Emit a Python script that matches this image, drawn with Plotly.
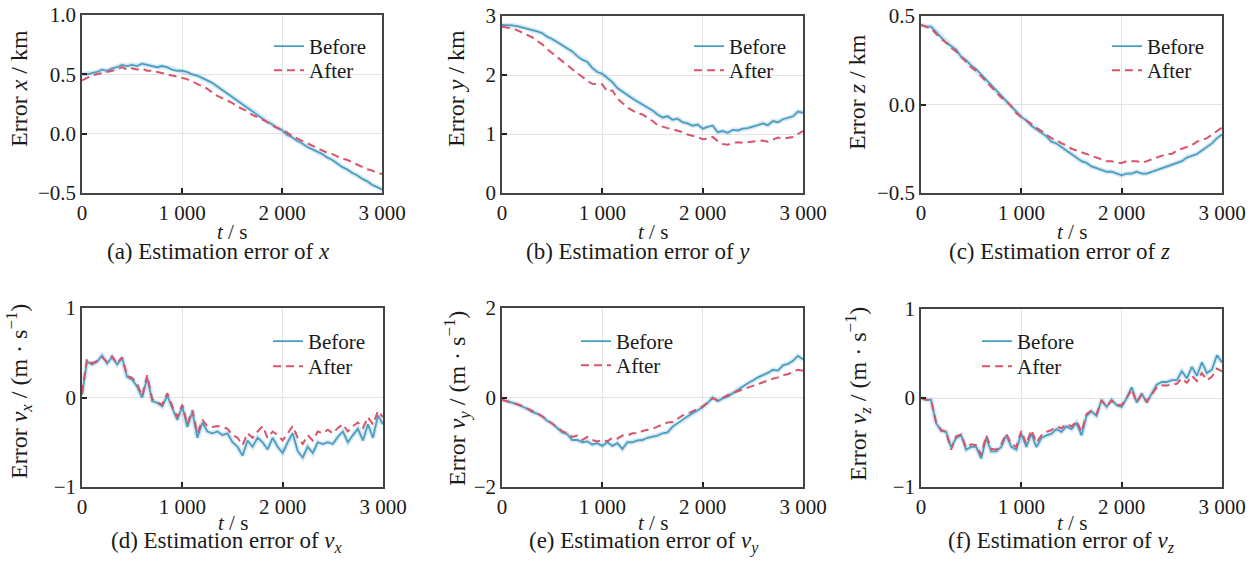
import plotly.graph_objects as go

# ---------------- data ----------------
t = list(range(0, 3001, 50))
x_ticks = [0, 1000, 2000, 3000]
x_ticktext = ["0", "1 000", "2 000", "3 000"]

x_before = [0.50, 0.50, 0.51, 0.52, 0.54, 0.53, 0.55, 0.56, 0.58, 0.57, 0.58, 0.57, 0.59, 0.58, 0.57, 0.56,
            0.57, 0.56, 0.54, 0.53, 0.53, 0.52, 0.50, 0.49, 0.47, 0.45, 0.43, 0.40, 0.37, 0.34, 0.31, 0.28,
            0.25, 0.22, 0.19, 0.16, 0.13, 0.10, 0.08, 0.05, 0.03, -0.01, -0.03, -0.06, -0.08, -0.11, -0.13,
            -0.15, -0.17, -0.20, -0.22, -0.25, -0.28, -0.30, -0.33, -0.35, -0.38, -0.40, -0.43, -0.45, -0.47]
x_after = [0.45, 0.47, 0.49, 0.50, 0.51, 0.52, 0.53, 0.54, 0.56, 0.54, 0.55, 0.54, 0.55, 0.53, 0.53, 0.52,
           0.51, 0.50, 0.49, 0.48, 0.47, 0.46, 0.44, 0.42, 0.40, 0.38, 0.35, 0.32, 0.30, 0.28, 0.26, 0.23,
           0.21, 0.19, 0.16, 0.14, 0.12, 0.10, 0.07, 0.05, 0.03, 0.01, -0.02, -0.04, -0.06, -0.08, -0.10,
           -0.12, -0.14, -0.16, -0.17, -0.19, -0.21, -0.22, -0.24, -0.26, -0.28, -0.30, -0.31, -0.33, -0.34]

y_before = [2.85, 2.85, 2.84, 2.83, 2.81, 2.79, 2.77, 2.74, 2.71, 2.65, 2.61, 2.56, 2.51, 2.45, 2.40, 2.32,
            2.26, 2.22, 2.12, 2.05, 2.02, 1.95, 1.88, 1.78, 1.72, 1.65, 1.60, 1.55, 1.50, 1.45, 1.40, 1.33,
            1.28, 1.30, 1.24, 1.26, 1.20, 1.18, 1.14, 1.16, 1.09, 1.12, 1.14, 1.03, 1.05, 1.02, 1.07, 1.06,
            1.09, 1.10, 1.12, 1.15, 1.18, 1.15, 1.22, 1.20, 1.25, 1.27, 1.30, 1.38, 1.36]
y_after = [2.82, 2.81, 2.79, 2.76, 2.72, 2.68, 2.64, 2.58, 2.52, 2.44, 2.37, 2.30, 2.24, 2.17, 2.10, 2.03,
           1.97, 1.90, 1.85, 1.85, 1.84, 1.72, 1.74, 1.60, 1.52, 1.45, 1.40, 1.35, 1.33, 1.28, 1.22, 1.15,
           1.12, 1.10, 1.08, 1.06, 1.03, 0.99, 0.97, 0.95, 0.91, 0.92, 0.95, 0.88, 0.83, 0.82, 0.85, 0.86,
           0.85, 0.86, 0.86, 0.87, 0.89, 0.87, 0.90, 0.94, 0.92, 0.93, 0.95, 1.00, 1.05]

z_before = [0.45, 0.44, 0.44, 0.41, 0.38, 0.35, 0.33, 0.31, 0.27, 0.25, 0.22, 0.20, 0.17, 0.14, 0.11, 0.08,
            0.05, 0.02, -0.01, -0.04, -0.07, -0.09, -0.12, -0.14, -0.16, -0.18, -0.21, -0.22, -0.24, -0.26,
            -0.28, -0.30, -0.32, -0.33, -0.35, -0.36, -0.37, -0.38, -0.38, -0.39, -0.40, -0.39, -0.39, -0.38,
            -0.39, -0.39, -0.38, -0.37, -0.36, -0.35, -0.34, -0.33, -0.32, -0.30, -0.29, -0.28, -0.26, -0.24,
            -0.22, -0.19, -0.17]
z_after = [0.45, 0.44, 0.43, 0.40, 0.37, 0.35, 0.32, 0.30, 0.27, 0.24, 0.21, 0.19, 0.16, 0.13, 0.10, 0.07,
           0.04, 0.02, -0.01, -0.05, -0.07, -0.09, -0.11, -0.13, -0.15, -0.17, -0.19, -0.20, -0.22, -0.23,
           -0.25, -0.26, -0.27, -0.28, -0.29, -0.30, -0.31, -0.32, -0.32, -0.33, -0.33, -0.32, -0.32, -0.32,
           -0.33, -0.32, -0.31, -0.30, -0.29, -0.28, -0.28, -0.26, -0.25, -0.24, -0.23, -0.21, -0.20, -0.19,
           -0.17, -0.15, -0.13]

vx_before = [0.03, 0.40, 0.37, 0.40, 0.47, 0.38, 0.45, 0.37, 0.44, 0.23, 0.20, 0.12, 0.00, 0.22, -0.04, -0.06,
             -0.10, 0.02, -0.12, -0.25, -0.10, -0.33, -0.16, -0.45, -0.28, -0.38, -0.40, -0.38, -0.42, -0.40,
             -0.50, -0.55, -0.65, -0.48, -0.55, -0.45, -0.50, -0.58, -0.45, -0.55, -0.62, -0.50, -0.40, -0.60,
             -0.67, -0.55, -0.62, -0.50, -0.52, -0.50, -0.52, -0.44, -0.38, -0.50, -0.42, -0.35, -0.48, -0.30,
             -0.45, -0.20, -0.30]
vx_after = [0.05, 0.43, 0.38, 0.41, 0.45, 0.40, 0.46, 0.38, 0.45, 0.24, 0.22, 0.15, 0.02, 0.25, -0.02, -0.05,
            -0.08, 0.05, -0.10, -0.22, -0.08, -0.30, -0.14, -0.40, -0.25, -0.32, -0.33, -0.32, -0.33, -0.35,
            -0.42, -0.45, -0.53, -0.40, -0.45, -0.38, -0.32, -0.45, -0.38, -0.42, -0.48, -0.40, -0.32, -0.45,
            -0.52, -0.42, -0.48, -0.38, -0.40, -0.36, -0.40, -0.34, -0.30, -0.38, -0.32, -0.28, -0.34, -0.22,
            -0.30, -0.15, -0.22]

vy_before = [-0.05, -0.08, -0.12, -0.15, -0.20, -0.25, -0.32, -0.36, -0.42, -0.52, -0.58, -0.68, -0.78, -0.82,
             -0.95, -0.95, -1.00, -0.98, -1.05, -1.02, -1.08, -1.00, -1.08, -1.02, -1.15, -1.00, -1.00, -0.96,
             -0.95, -0.90, -0.88, -0.85, -0.80, -0.78, -0.65, -0.58, -0.50, -0.42, -0.35, -0.28, -0.22, -0.12,
             0.00, -0.08, -0.02, 0.02, 0.10, 0.18, 0.25, 0.32, 0.38, 0.45, 0.50, 0.55, 0.62, 0.60, 0.72, 0.75,
             0.82, 0.93, 0.85]
vy_after = [-0.05, -0.08, -0.11, -0.15, -0.19, -0.24, -0.30, -0.35, -0.42, -0.50, -0.58, -0.66, -0.75, -0.80,
            -0.88, -0.85, -0.95, -0.88, -0.95, -0.98, -0.95, -0.98, -0.90, -0.92, -0.85, -0.85, -0.80, -0.80,
            -0.75, -0.72, -0.70, -0.65, -0.60, -0.56, -0.55, -0.48, -0.40, -0.36, -0.30, -0.25, -0.20, -0.10,
            -0.02, -0.06, 0.00, 0.05, 0.10, 0.14, 0.18, 0.22, 0.27, 0.30, 0.35, 0.38, 0.42, 0.45, 0.50, 0.52,
            0.58, 0.62, 0.60]

vz_before = [0.00, -0.02, -0.02, -0.28, -0.37, -0.38, -0.55, -0.45, -0.42, -0.58, -0.55, -0.55, -0.68, -0.45,
             -0.60, -0.60, -0.55, -0.42, -0.55, -0.58, -0.40, -0.55, -0.40, -0.55, -0.45, -0.42, -0.40, -0.35,
             -0.38, -0.32, -0.35, -0.28, -0.42, -0.20, -0.15, -0.20, -0.02, -0.10, -0.02, -0.08, -0.10, 0.00,
             0.12, -0.05, 0.05, -0.05, 0.05, 0.15, 0.18, 0.18, 0.20, 0.20, 0.30, 0.22, 0.35, 0.25, 0.40, 0.28,
             0.32, 0.48, 0.40]
vz_after = [0.00, -0.02, -0.02, -0.27, -0.36, -0.38, -0.58, -0.43, -0.41, -0.56, -0.52, -0.53, -0.64, -0.42,
            -0.57, -0.58, -0.52, -0.40, -0.52, -0.55, -0.37, -0.52, -0.36, -0.50, -0.42, -0.38, -0.36, -0.32,
            -0.34, -0.29, -0.32, -0.26, -0.38, -0.18, -0.14, -0.18, -0.03, -0.10, -0.03, -0.08, -0.08, 0.00,
            0.10, -0.05, 0.04, -0.04, 0.04, 0.12, 0.14, 0.14, 0.15, 0.16, 0.22, 0.17, 0.25, 0.19, 0.28, 0.20,
            0.24, 0.33, 0.30]

# ---------------- style / layout ----------------
FONT = "Liberation Serif, Times New Roman, serif"
C_BEFORE = "#4c9dc2"
C_AFTER = "#d9536b"
W, H = 1254, 564


def fx(px):
    """window pixel x -> paper fraction"""
    return px / W


def fy(py):
    """window pixel y (from top) -> paper fraction"""
    return 1 - py / H


panels = [
    dict(before=x_before, after=x_after, yr=[-0.5, 1.0], yt=[-0.5, 0.0, 0.5, 1.0],
         ytt=["\u22120.5", "0.0", "0.5", "1.0"], px=(82, 382), py=(15, 193),
         ytitle="Error <i>x</i> / km", ytx=19, yty=89,
         cap="(a) Estimation error of <i>x</i>", capx=218, leg=(269, 47, 71)),
    dict(before=y_before, after=y_after, yr=[0, 3], yt=[0, 1, 2, 3],
         ytt=["0", "1", "2", "3"], px=(502, 803), py=(16, 193),
         ytitle="Error <i>y</i> / km", ytx=456, yty=89,
         cap="(b) Estimation error of <i>y</i>", capx=638, leg=(689, 47, 71)),
    dict(before=z_before, after=z_after, yr=[-0.5, 0.5], yt=[-0.5, 0.0, 0.5],
         ytt=["\u22120.5", "0.0", "0.5"], px=(921, 1222), py=(16, 193),
         ytitle="Error <i>z</i> / km", ytx=857, yty=92,
         cap="(c) Estimation error of <i>z</i>", capx=1059, leg=(1107, 47, 71)),
    dict(before=vx_before, after=vx_after, yr=[-1, 1], yt=[-1, 0, 1],
         ytt=["\u22121", "0", "1"], px=(82, 383), py=(308, 487),
         ytitle="Error <i>v</i><sub><i>x</i></sub> / (m \u00b7 s<sup>\u22121</sup>)", ytx=19, yty=392,
         cap="(d) Estimation error of <i>v</i><sub><i>x</i></sub>", capx=227, leg=(268, 342, 367)),
    dict(before=vy_before, after=vy_after, yr=[-2, 2], yt=[-2, 0, 2],
         ytt=["\u22122", "0", "2"], px=(502, 803), py=(308, 487),
         ytitle="Error <i>v</i><sub><i>y</i></sub> / (m \u00b7 s<sup>\u22121</sup>)", ytx=457, yty=398,
         cap="(e) Estimation error of <i>v</i><sub><i>y</i></sub>", capx=644, leg=(576, 342, 366)),
    dict(before=vz_before, after=vz_after, yr=[-1, 1], yt=[-1, 0, 1],
         ytt=["\u22121", "0", "1"], px=(921, 1222), py=(309, 487),
         ytitle="Error <i>v</i><sub><i>z</i></sub> / (m \u00b7 s<sup>\u22121</sup>)", ytx=858, yty=394,
         cap="(f) Estimation error of <i>v</i><sub><i>z</i></sub>", capx=1061, leg=(977, 342, 367)),
]

fig = go.Figure()
annotations = []
layout = dict(
    width=W, height=H, margin=dict(l=0, r=0, t=0, b=0, autoexpand=False),
    paper_bgcolor="white", plot_bgcolor="white",
    font=dict(family=FONT, size=20, color="#1a1a1a"),
    showlegend=True,
)

LEG_OFF = 21  # distance from legend top to first item centre

for i, p in enumerate(panels, start=1):
    sfx = "" if i == 1 else str(i)
    xa, ya = "x" + sfx, "y" + sfx
    kb, ka = 2 * i - 1, 2 * i
    leg_b = "legend" if kb == 1 else f"legend{kb}"
    leg_a = f"legend{ka}"
    fig.add_trace(go.Scatter(x=t, y=p["before"], mode="lines", name="Before",
                             line=dict(color="rgba(76,157,194,0.22)", width=5),
                             xaxis=xa, yaxis=ya, showlegend=False, hoverinfo="skip"))
    fig.add_trace(go.Scatter(x=t, y=p["before"], mode="lines", name="Before",
                             line=dict(color=C_BEFORE, width=1.8), xaxis=xa, yaxis=ya, legend=leg_b))
    fig.add_trace(go.Scatter(x=t, y=p["after"], mode="lines", name="After",
                             line=dict(color=C_AFTER, width=2, dash="8px,5px"), xaxis=xa, yaxis=ya,
                             legend=leg_a))
    x0, x1 = p["px"]
    y0, y1 = p["py"]
    common = dict(showgrid=True, gridcolor="#e3e3e3", gridwidth=1, zeroline=False,
                  showline=True, linecolor="#444444", linewidth=1.5, mirror=True,
                  ticks="inside", ticklen=5, tickcolor="#222222", tickwidth=1.5,
                  ticklabeloverflow="allow",
                  tickfont=dict(family=FONT, size=21, color="#1a1a1a"))
    layout["xaxis" + sfx] = dict(domain=[fx(x0), fx(x1)], range=[0, 3000], tickvals=x_ticks,
                                 ticktext=x_ticktext, anchor=ya, **common)
    layout["yaxis" + sfx] = dict(domain=[fy(y1), fy(y0)], range=p["yr"], tickvals=p["yt"],
                                 ticktext=p["ytt"], anchor=xa, **common)
    lx, lyb, lya = p["leg"]
    for name, ly in ((leg_b, lyb), (leg_a, lya)):
        layout[name] = dict(x=fx(lx), y=fy(ly - LEG_OFF), xanchor="left", yanchor="top",
                            bgcolor="rgba(0,0,0,0)", borderwidth=0,
                            font=dict(family=FONT, size=21, color="#1a1a1a"),
                            tracegroupgap=0, itemwidth=30)
    row_off = 0 if i <= 3 else 291
    annotations.append(dict(text="<i>t</i> / s", x=fx((x0 + x1) / 2), y=fy(232 + row_off),
                            xref="paper", yref="paper", showarrow=False,
                            font=dict(family=FONT, size=21), xanchor="center", yanchor="middle"))
    annotations.append(dict(text=p["cap"], x=fx(p["capx"]), y=fy(251 + row_off),
                            xref="paper", yref="paper", showarrow=False,
                            font=dict(family=FONT, size=23), xanchor="center", yanchor="middle"))
    annotations.append(dict(text=p["ytitle"], x=fx(p["ytx"]), y=fy(p["yty"]),
                            xref="paper", yref="paper", showarrow=False, textangle=-90,
                            font=dict(family=FONT, size=24), xanchor="center", yanchor="middle"))

layout["annotations"] = annotations
fig.update_layout(**layout)
fig.write_html("out.html", config={"displayModeBar": False},
               post_script="document.body.style.margin='0';document.body.style.overflow='hidden';")
